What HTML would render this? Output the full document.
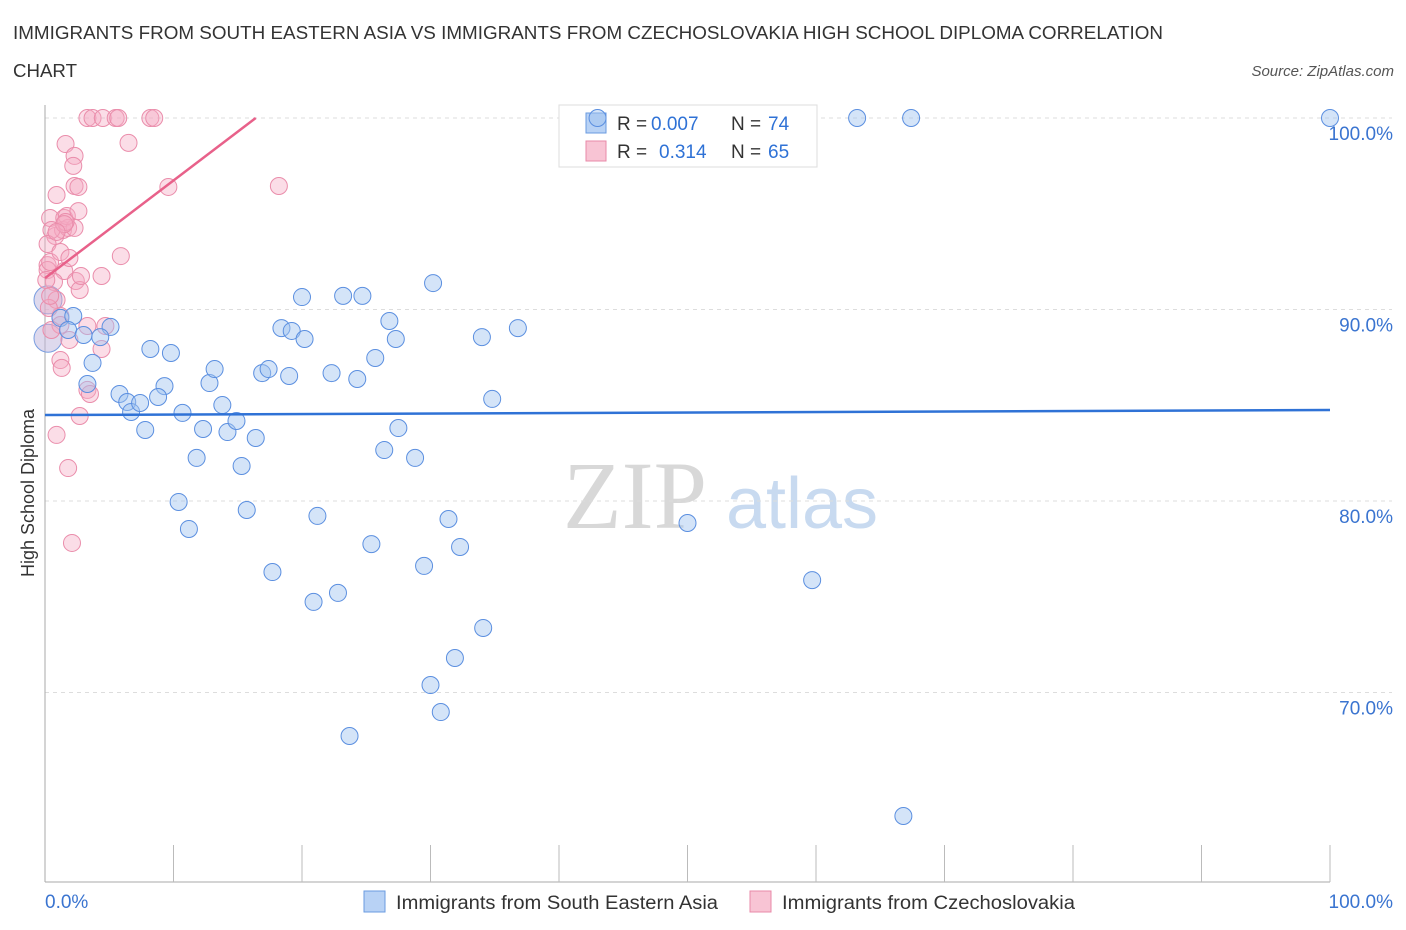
<!DOCTYPE html>
<html><head><meta charset="utf-8">
<style>
body{margin:0;background:#fff;font-family:"Liberation Sans",sans-serif;}
svg{display:block}
</style></head>
<body>
<svg id="chart" width="1406" height="930">
<text x="13" y="39" font-size="18" fill="#333" textLength="1150" lengthAdjust="spacingAndGlyphs">IMMIGRANTS FROM SOUTH EASTERN ASIA VS IMMIGRANTS FROM CZECHOSLOVAKIA HIGH SCHOOL DIPLOMA CORRELATION</text>
<text x="13" y="77" font-size="18" fill="#333" textLength="64" lengthAdjust="spacingAndGlyphs">CHART</text>
<text x="1394" y="76" font-size="15" fill="#555" font-style="italic" text-anchor="end">Source: ZipAtlas.com</text>
<g>
<text x="635" y="528" font-size="96" fill="#d8d8d8" font-family="Liberation Serif,serif" text-anchor="middle">ZIP</text>
<text x="802" y="528" font-size="72" fill="#c8daf0" text-anchor="middle">atlas</text>
</g>
<g id="grid"></g>
<g id="axes"></g>
<g>
<rect x="559" y="105" width="258" height="62" fill="#fff" stroke="#ddd"/>
<rect x="586" y="113" width="20" height="20" fill="#b8d2f5" stroke="#6a9be0"/>
<text y="130" font-size="19" fill="#333"><tspan x="617">R =</tspan><tspan x="651" fill="#2f72d6">0.007</tspan><tspan x="731">N =</tspan><tspan x="768" fill="#2f72d6">74</tspan></text>
<rect x="586" y="141" width="20" height="20" fill="#f8c4d4" stroke="#e88aa8"/>
<text y="158" font-size="19" fill="#333"><tspan x="617">R =</tspan><tspan x="659" fill="#2f72d6">0.314</tspan><tspan x="731">N =</tspan><tspan x="768" fill="#2f72d6">65</tspan></text>
</g>
<g id="marks"></g>
<text x="34" y="493" font-size="18" fill="#333" text-anchor="middle" transform="rotate(-90 34 493)">High School Diploma</text>
<g>
<rect x="364" y="891" width="21" height="21" fill="#b8d2f5" stroke="#6a9be0"/>
<text x="396" y="909" font-size="19" fill="#333" textLength="322" lengthAdjust="spacingAndGlyphs">Immigrants from South Eastern Asia</text>
<rect x="750" y="891" width="21" height="21" fill="#f8c4d4" stroke="#e88aa8"/>
<text x="782" y="909" font-size="19" fill="#333" textLength="293" lengthAdjust="spacingAndGlyphs">Immigrants from Czechoslovakia</text>
</g>
</svg>
<script>
const yTicks=[100,90,80,70];
const yTickLabels=["100.0%","90.0%","80.0%","70.0%"];
const xTickLabels=["0.0%","100.0%"];
const blueX=[43.0,63.2,67.4,100,1.2,2.2,1.8,3.0,5.1,4.3,3.7,3.3,5.8,6.4,6.7,7.4,7.8,8.2,9.8,9.3,8.8,10.7,11.8,10.4,11.2,12.3,12.8,13.2,13.8,14.2,14.9,15.3,15.7,16.4,16.9,17.4,17.7,18.4,19.0,19.2,20.2,20.0,21.2,20.9,22.8,22.3,23.2,24.7,24.3,25.7,25.4,23.7,26.4,26.8,27.3,27.5,28.8,29.5,30.2,31.4,32.3,31.9,30.0,30.8,34.1,34.0,34.8,36.8,50.0,59.7,66.8];
const blueY=[100,100,100,100,89.56,89.66,88.93,88.67,89.09,88.56,87.21,86.11,85.59,85.17,84.65,85.12,83.71,87.94,87.73,86.0,85.43,84.6,82.25,79.95,78.54,83.76,86.16,86.89,85.01,83.6,84.18,81.83,79.53,83.29,86.68,86.89,76.29,89.03,86.53,88.88,88.46,90.65,79.22,74.73,75.2,86.68,90.71,90.71,86.37,87.47,77.75,67.73,82.66,89.4,88.46,83.81,82.25,76.61,91.38,79.06,77.6,71.8,70.39,68.98,73.37,88.56,85.33,89.03,78.85,75.87,63.55];
const pinkX=[3.3,3.7,4.5,5.5,5.7,8.2,8.5,1.6,2.3,2.2,6.5,9.6,18.2,0.9,2.3,2.6,0.4,1.5,0.8,1.4,1.8,2.3,0.5,0.2,1.7,1.6,2.6,0.2,0.2,0.4,1.2,1.5,1.9,2.4,2.7,4.4,2.8,5.9,0.9,1.2,1.2,1.9,0.5,3.3,4.4,4.7,1.2,1.3,3.3,3.5,2.7,0.9,1.8,2.1,0.3,0.7,0.1,0.4,1.5,0.9];
const pinkY=[100,100,100,100,100,100,100,98.64,98.02,97.5,98.7,96.4,96.45,95.98,96.45,96.4,94.78,94.78,93.84,94.15,94.26,94.26,94.15,93.42,94.88,94.57,95.14,92.32,92.06,92.48,93.0,92.01,92.69,91.49,91.02,91.75,91.75,92.79,90.5,89.66,89.19,88.41,88.93,89.14,87.94,89.14,87.36,86.95,85.8,85.59,84.44,83.45,81.72,77.81,90.08,91.44,91.54,90.71,94.46,94.05];
const bigX=[0,0];
const bigY=[90.5,88.5];
const blueTrend=[84.49,84.75];
const pinkTrend=[91.64,100];
const pinkTrendEnd=16.4;

const X=v=>45+v*12.85, Y=v=>118+(100-v)*19.15;
const NS="http://www.w3.org/2000/svg";
function mk(tag,attrs,parent){const e=document.createElementNS(NS,tag);for(const k in attrs)e.setAttribute(k,attrs[k]);parent.appendChild(e);return e;}
const grid=document.getElementById('grid'),axes=document.getElementById('axes'),marks=document.getElementById('marks');
yTicks.forEach((t,i)=>{
 const l=mk('line',{x1:45,x2:1392,y1:Y(t),y2:Y(t),stroke:'#ddd','stroke-dasharray':'4 4'},grid);
 
 
 const tx=mk('text',{x:1393,y:Y(t)+22,'font-size':19,fill:'#3a74d0','text-anchor':'end'},axes);
 tx.textContent=yTickLabels[i];
 
 
});
const ya=mk('line',{x1:45,x2:45,y1:105,y2:882,stroke:'#aaa'},axes);


const xa=mk('line',{x1:45,x2:1330,y1:882,y2:882,stroke:'#aaa'},axes);


for(let i=1;i<=10;i++){
 const t=mk('line',{x1:X(i*10),x2:X(i*10),y1:845,y2:882,stroke:'#bbb'},axes);
 
 
}
[[0,'start',45],[100,'end',1393]].forEach((a,i)=>{
 const tx=mk('text',{x:a[2],y:908,'font-size':19,fill:'#3a74d0','text-anchor':a[1]},axes);
 tx.textContent=xTickLabels[i];
 
 
});
bigX.forEach((v,i)=>{
 const c=mk('circle',{cx:X(v)+3,cy:Y(bigY[i]),r:14,fill:'rgba(190,180,220,0.5)',stroke:'#7a9ee0','stroke-width':1},marks);
 
 
});
pinkX.forEach((v,i)=>{
 const c=mk('circle',{cx:X(v),cy:Y(pinkY[i]),r:8.5,fill:'rgba(245,170,195,0.4)',stroke:'#ea8dab','stroke-width':1},marks);
 
 
});
blueX.forEach((v,i)=>{
 const c=mk('circle',{cx:X(v),cy:Y(blueY[i]),r:8.5,fill:'rgba(160,196,240,0.45)',stroke:'#5b8fe0','stroke-width':1},marks);
 
 
});
const bl=mk('line',{x1:X(0),x2:X(100),y1:Y(blueTrend[0]),y2:Y(blueTrend[1]),stroke:'#2f72d6','stroke-width':2.5},marks);


const pl=mk('line',{x1:X(0),x2:X(pinkTrendEnd),y1:Y(pinkTrend[0]),y2:Y(pinkTrend[1]),stroke:'#e8618a','stroke-width':2.5},marks);


</script>
</body></html>
